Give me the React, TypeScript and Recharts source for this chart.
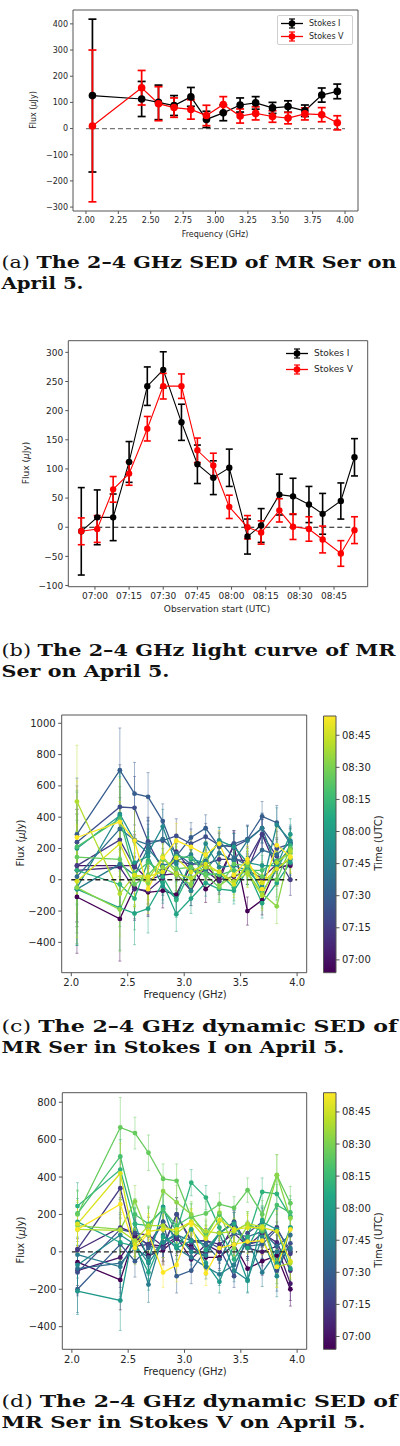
import {
  ComposedChart,
  ErrorBar,
  Label,
  Legend,
  Line,
  ReferenceArea,
  ReferenceLine,
  XAxis,
  YAxis,
} from "recharts";

const SANS = "'DejaVu Sans', sans-serif";
const SERIF = "'DejaVu Serif', serif";
const INK = "#262626";
const SPINE = "#555555";

// ---- (a) band-averaged SED ----
const SED_FREQ = [2.05, 2.43, 2.56, 2.68, 2.81, 2.93, 3.06, 3.19, 3.31, 3.44, 3.56, 3.69, 3.82, 3.94];
const SED_I = [126, 113, 100, 88, 121, 35, 60, 90, 98, 79, 84, 68, 128, 142];
const SED_I_ERR = [292, 67, 66, 38, 36, 31, 30, 27, 24, 21, 22, 22, 27, 28];
const SED_V = [10, 156, 95, 80, 73, 50, 92, 48, 58, 46, 40, 56, 53, 22];
const SED_V_ERR = [290, 66, 65, 37, 37, 39, 30, 27, 25, 22, 22, 23, 27, 27];
const SED_X_TICKS = [2.0, 2.25, 2.5, 2.75, 3.0, 3.25, 3.5, 3.75, 4.0];
const SED_Y_TICKS = [-300, -200, -100, 0, 100, 200, 300, 400];

// ---- (b) light curve ----
const LC_TIMES = [
  "06:54", "07:01", "07:08", "07:15", "07:23", "07:30", "07:38", "07:45", "07:52",
  "07:59", "08:07", "08:13", "08:21", "08:27", "08:34", "08:40", "08:48", "08:54",
];
const LC_I = [-7, 17, 17, 112, 242, 270, 180, 108, 85, 102, -16, 3, 56, 53, 39, 23, 45, 120];
const LC_I_ERR = [75, 47, 40, 35, 33, 31, 31, 33, 29, 32, 30, 29, 35, 31, 31, 35, 31, 32];
const LC_V = [-7, -3, 65, 92, 169, 242, 242, 132, 106, 35, 0, -9, 29, 1, -3, -21, -45, -5];
const LC_V_ERR = [23, 23, 22, 20, 21, 22, 21, 21, 21, 20, 20, 20, 20, 22, 21, 23, 22, 23];
const LC_X_TICKS = ["07:00", "07:15", "07:30", "07:45", "08:00", "08:15", "08:30", "08:45"];
const LC_Y_TICKS = [-100, -50, 0, 50, 100, 150, 200, 250, 300];

// ---- (c)/(d) dynamic SEDs, one row per scan (same order as LC_TIMES) ----
const SCAN_COLORS = [
  "#440154", "#47176a", "#472a79", "#443c84", "#3d4e8a", "#365d8d", "#2f6c8e", "#297b8e", "#23898d",
  "#1f988a", "#21a585", "#2eb37c", "#47c06e", "#66cb5d", "#8ad548", "#b1dd2e", "#d9e21b", "#fde725",
];
const VIRIDIS = [
  "#440154", "#482475", "#414487", "#355f8d", "#2a788e", "#21918c",
  "#22a884", "#44bf70", "#7ad151", "#bddf26", "#fde725",
];

const DYN_I: number[][] = [
  [-110, -250, -50, -80, -70, -95, 95, -60, 20, 220, -200, -130, 80, 90],
  [90, 90, 90, 0, 30, 40, -70, 90, 0, 20, 60, 10, 100, 200],
  [60, 80, -60, -70, 10, 180, 60, 60, -10, 230, 60, 290, 70, 100],
  [90, 255, 80, 240, 60, 120, 100, 100, 130, 130, 120, 290, 150, 0],
  [240, 465, 460, 245, 250, 280, 230, 275, 220, 210, 255, 330, 200, 230],
  [290, 700, 550, 530, 375, 150, 270, 330, 210, 230, 260, 405, 365, 230],
  [20, 325, 255, 225, 260, 170, 100, 120, 250, 140, 90, 190, 160, 240],
  [-60, 100, 30, 200, 90, 120, 160, 60, 170, 120, 250, 330, 80, 130],
  [-50, 420, 250, 170, 340, 100, -70, 230, 80, 90, 60, -40, 350, 250],
  [200, 410, 110, 150, -40, -120, 130, 110, 250, 210, 110, 90, 90, 290],
  [-60, -180, -215, -185, -20, -220, -120, -20, -60, -70, 60, -150, -20, 110],
  [60, -30, -120, 120, 20, -130, 60, 30, 40, -50, 100, -80, 70, 220],
  [210, 390, 40, 110, 50, 150, 140, 40, 30, 60, 60, 60, 120, 170],
  [145, 130, -30, 30, 130, 70, 80, 30, -50, 100, 90, 20, 0, 200],
  [-50, -190, 20, -20, 80, 30, -30, 160, -40, 30, 50, -90, -170, 190],
  [500, -90, 30, 0, 150, 40, 10, 80, 50, -10, 40, -100, 110, 180],
  [-10, 230, 30, 20, 50, 140, 50, 100, 50, -30, 110, -20, 70, 140],
  [270, 370, 250, -60, 140, 250, 210, 160, 230, 30, 130, -60, 220, 150],
];
const DYN_I_ERR = [360, 270, 200, 155, 110, 110, 95, 85, 85, 85, 90, 95, 110, 100];

const DYN_V: number[][] = [
  [-55, -150, 90, -20, 10, 70, 30, -30, -30, 40, -90, -50, -20, -200],
  [-100, -30, 80, 40, 30, 80, -40, 40, 0, 150, 20, 0, 30, -170],
  [10, 130, 100, 90, 30, 200, 60, 60, 40, 100, 30, 100, 50, -100],
  [15, 340, 30, 40, 160, 70, 20, -10, 100, 160, 40, 60, 130, -10],
  [-110, 120, 100, 30, 20, 200, 50, 60, 20, -130, 100, 160, -100, 45],
  [-200, 40, -50, 20, 160, -130, -100, 10, 100, 160, 30, 40, 120, 10],
  [-90, -60, 20, -30, 50, 90, 60, 40, -40, 100, 80, 110, 30, 90],
  [-15, -80, 60, -175, 90, 20, -30, -80, -120, -70, 60, -110, 0, 20],
  [-70, 90, 40, -60, 50, 100, 0, -20, 100, -100, -150, 80, -130, 130],
  [-210, -260, 150, -50, 240, 20, 60, -60, -160, 40, -155, 160, 120, -90],
  [160, 50, 30, -110, 80, 30, 120, 10, 100, 150, 20, 170, -60, 130],
  [245, 440, 150, 140, 230, 110, 370, 290, 130, -40, 80, 320, 310, 190],
  [205, 510, 200, 150, 225, 140, 190, 100, 200, 110, 150, 110, 250, 210],
  [200, 665, 635, 530, 390, 380, 185, 205, 255, 235, 330, 200, 410, 260],
  [140, 120, 270, 90, 325, 265, 200, 80, 210, 20, 140, 120, 410, 180],
  [120, 115, 60, 140, 140, 100, 160, 110, 100, 110, 150, 135, -80, -60],
  [150, 420, 40, 110, 120, 120, 160, 70, 170, 120, 130, 130, 110, -50],
  [120, 255, 20, 100, -110, -70, 150, -115, 20, 40, 55, 60, -80, 120],
];
const DYN_V_ERR = [125, 160, 85, 95, 80, 90, 70, 65, 60, 60, 65, 75, 110, 90];

const DYN_X_TICKS = [2.0, 2.5, 3.0, 3.5, 4.0];
const DYN_I_Y_TICKS = [-400, -200, 0, 200, 400, 600, 800, 1000];
const DYN_V_Y_TICKS = [-400, -200, 0, 200, 400, 600, 800];
const CBAR_TICKS = LC_X_TICKS;

const CAPTIONS = [
  { tag: "(a)", first: "The 2–4 GHz SED of MR Ser on", second: "April 5." },
  { tag: "(b)", first: "The 2–4 GHz light curve of MR", second: "Ser on April 5." },
  { tag: "(c)", first: "The 2–4 GHz dynamic SED of", second: "MR Ser in Stokes I on April 5." },
  { tag: "(d)", first: "The 2–4 GHz dynamic SED of", second: "MR Ser in Stokes V on April 5." },
];

const LEGEND_ITEMS = [
  { label: "Stokes I", color: "#000000" },
  { label: "Stokes V", color: "#ff0000" },
];

const toMin = (t: string) => {
  const [h, m] = t.split(":").map(Number);
  return h * 60 + m;
};
const hhmm = (v: number) =>
  `${String(Math.floor(v / 60)).padStart(2, "0")}:${String(Math.round(v % 60)).padStart(2, "0")}`;
const num = (v: number) => (v < 0 ? `\u2212${Math.abs(v)}` : `${v}`);

const sedRows = SED_FREQ.map((f, k) => ({
  f,
  i: SED_I[k],
  ie: SED_I_ERR[k],
  v: SED_V[k],
  ve: SED_V_ERR[k],
}));

const lcRows = LC_TIMES.map((t, k) => ({
  t: toMin(t),
  i: LC_I[k],
  ie: LC_I_ERR[k],
  v: LC_V[k],
  ve: LC_V_ERR[k],
}));

const dynRows = (series: number[][], err: number[]) =>
  SED_FREQ.map((f, k) => {
    const row: Record<string, number> = { f };
    series.forEach((s, i) => {
      row[`s${i}`] = s[k];
      row[`e${i}`] = err[k];
    });
    return row;
  });

function RotLabel({ cx, cy, size, children }: { cx: number; cy: number; size: number; children: any }) {
  return (
    <text
      x={cx}
      y={cy}
      transform={`rotate(-90 ${cx} ${cy})`}
      textAnchor="middle"
      dominantBaseline="central"
      fontSize={size}
      fontFamily={SANS}
      fill={INK}
    >
      {children}
    </text>
  );
}

function FluxLabel({ cx, cy, size }: { cx: number; cy: number; size: number }) {
  return (
    <RotLabel cx={cx} cy={cy} size={size}>
      Flux (<tspan fontStyle="italic">μ</tspan>Jy)
    </RotLabel>
  );
}

function XLabel({ cx, y, size, text }: { cx: number; y: number; size: number; text: string }) {
  return (
    <text x={cx} y={y} textAnchor="middle" fontSize={size} fontFamily={SANS} fill={INK}>
      {text}
    </text>
  );
}

function ErrIcon({ color }: { color: string }) {
  return (
    <svg width={22} height={11} style={{ display: "block" }}>
      <line x1={0} y1={5.5} x2={22} y2={5.5} stroke={color} strokeWidth={1.3} />
      <line x1={11} y1={1} x2={11} y2={10} stroke={color} strokeWidth={1.5} />
      <line x1={8} y1={1} x2={14} y2={1} stroke={color} strokeWidth={1.2} />
      <line x1={8} y1={10} x2={14} y2={10} stroke={color} strokeWidth={1.2} />
      <circle cx={11} cy={5.5} r={3.3} fill={color} />
    </svg>
  );
}

function StokesLegend({ framed, size, rowH }: { framed: boolean; size: number; rowH: number }) {
  return (
    <div
      style={{
        border: framed ? "1px solid #cfcfcf" : "1px solid transparent",
        borderRadius: 2,
        background: "rgba(255,255,255,0.85)",
        padding: "1px 3px",
        fontFamily: SANS,
        fontSize: size,
        color: INK,
        lineHeight: 1,
      }}
    >
      {LEGEND_ITEMS.map((it) => (
        <div key={it.label} style={{ display: "flex", alignItems: "center", height: rowH, whiteSpace: "nowrap" }}>
          <ErrIcon color={it.color} />
          <span style={{ marginLeft: 6 }}>{it.label}</span>
        </div>
      ))}
    </div>
  );
}

const tickStyle = (size: number) => ({ fontSize: size, fill: INK, fontFamily: SANS });

function SedPanel() {
  return (
    <div style={{ position: "absolute", left: 0, top: 0 }}>
      <ComposedChart width={400} height={245} data={sedRows} margin={{ top: 10, right: 42, bottom: 0, left: 0 }}>
        <XAxis
          dataKey="f"
          type="number"
          domain={[1.9, 4.1]}
          ticks={SED_X_TICKS}
          interval={0}
          tickFormatter={(v: number) => v.toFixed(2)}
          allowDataOverflow
          height={34}
          axisLine={false}
          tickLine={{ stroke: SPINE }}
          tickSize={3}
          tickMargin={3}
          tick={tickStyle(8)}
        >
          <Label content={() => <XLabel cx={215} y={237} size={8} text="Frequency (GHz)" />} />
        </XAxis>
        <YAxis
          type="number"
          domain={[-315, 453]}
          ticks={SED_Y_TICKS}
          interval={0}
          tickFormatter={num}
          allowDataOverflow
          width={73}
          axisLine={false}
          tickLine={{ stroke: SPINE }}
          tickSize={3}
          tickMargin={2}
          tick={tickStyle(8)}
        >
          <Label content={() => <FluxLabel cx={33} cy={110} size={8} />} />
        </YAxis>
        <ReferenceLine
          segment={[{ x: 2.0, y: 0 }, { x: 4.0, y: 0 }]}
          stroke="#777"
          strokeWidth={1.2}
          strokeDasharray="5 3"
        />
        <Line dataKey="i" type="linear" stroke="#000" strokeWidth={1.2} dot={{ r: 3.8, fill: "#000", stroke: "#000", strokeWidth: 0 }} isAnimationActive={false}>
          <ErrorBar dataKey="ie" direction="y" width={4} stroke="#000" strokeWidth={1.7} />
        </Line>
        <Line dataKey="v" type="linear" stroke="#ff0000" strokeWidth={1.2} dot={{ r: 3.8, fill: "#ff0000", stroke: "#ff0000", strokeWidth: 0 }} isAnimationActive={false}>
          <ErrorBar dataKey="ve" direction="y" width={4} stroke="#ff0000" strokeWidth={1.7} />
        </Line>
        <ReferenceArea x1={1.9} x2={4.1} y1={-315} y2={453} fill="none" stroke={SPINE} strokeWidth={1} />
        <Legend
          layout="horizontal"
          verticalAlign="middle"
          align="center"
          width={76}
          wrapperStyle={{ left: 277, top: 15 }}
          content={() => <StokesLegend framed size={8} rowH={13} />}
        />
      </ComposedChart>
    </div>
  );
}

function LightCurvePanel() {
  const first = toMin(LC_TIMES[0]);
  const last = toMin(LC_TIMES[LC_TIMES.length - 1]);
  return (
    <div style={{ position: "absolute", left: 0, top: 330 }}>
      <ComposedChart width={400} height={290} data={lcRows} margin={{ top: 10.7, right: 32.3, bottom: 0, left: 0 }}>
        <XAxis
          dataKey="t"
          type="number"
          domain={[408.3, 539.8]}
          ticks={LC_X_TICKS.map(toMin)}
          interval={0}
          tickFormatter={hhmm}
          allowDataOverflow
          height={33.3}
          axisLine={false}
          tickLine={{ stroke: SPINE }}
          tickSize={3}
          tickMargin={3}
          tick={tickStyle(9)}
        >
          <Label content={() => <XLabel cx={217} y={282} size={9} text="Observation start (UTC)" />} />
        </XAxis>
        <YAxis
          type="number"
          domain={[-102, 320]}
          ticks={LC_Y_TICKS}
          interval={0}
          tickFormatter={num}
          allowDataOverflow
          width={68.3}
          axisLine={false}
          tickLine={{ stroke: SPINE }}
          tickSize={3}
          tickMargin={2}
          tick={tickStyle(9)}
        >
          <Label content={() => <FluxLabel cx={26} cy={133} size={9} />} />
        </YAxis>
        <ReferenceLine
          segment={[{ x: first, y: 0 }, { x: last, y: 0 }]}
          stroke="#111"
          strokeWidth={1.2}
          strokeDasharray="5 3"
        />
        <Line dataKey="i" type="linear" stroke="#000" strokeWidth={1.1} dot={{ r: 3.2, fill: "#000", stroke: "#000", strokeWidth: 0 }} isAnimationActive={false}>
          <ErrorBar dataKey="ie" direction="y" width={3.5} stroke="#000" strokeWidth={1.6} />
        </Line>
        <Line dataKey="v" type="linear" stroke="#ff0000" strokeWidth={1.1} dot={{ r: 3.2, fill: "#ff0000", stroke: "#ff0000", strokeWidth: 0 }} isAnimationActive={false}>
          <ErrorBar dataKey="ve" direction="y" width={3.5} stroke="#ff0000" strokeWidth={1.6} />
        </Line>
        <ReferenceArea x1={408.3} x2={539.8} y1={-102} y2={320} fill="none" stroke={SPINE} strokeWidth={1} />
        <Legend
          layout="horizontal"
          verticalAlign="middle"
          align="center"
          width={80}
          wrapperStyle={{ left: 282, top: 14 }}
          content={() => <StokesLegend framed={false} size={9} rowH={15.5} />}
        />
      </ComposedChart>
    </div>
  );
}

type DynProps = {
  top: number;
  series: number[][];
  err: number[];
  yDomain: [number, number];
  yTicks: number[];
  plotTop: number;
  plotBottom: number;
  plotLeft: number;
  labelY: number;
  xLabelY: number;
};

const DYN_X_DOMAIN: [number, number] = [1.915, 4.085];
const CBAR_DOMAIN: [number, number] = [414, 534];

function DynamicPanel({ top, series, err, yDomain, yTicks, plotTop, plotBottom, plotLeft, labelY, xLabelY }: DynProps) {
  const rows = dynRows(series, err);
  return (
    <div style={{ position: "absolute", left: 0, top }}>
      <ComposedChart width={400} height={300} data={rows} margin={{ top: plotTop, right: 93.3, bottom: 0, left: 0 }}>
        <XAxis
          dataKey="f"
          type="number"
          domain={DYN_X_DOMAIN}
          ticks={DYN_X_TICKS}
          interval={0}
          tickFormatter={(v: number) => v.toFixed(1)}
          allowDataOverflow
          height={300 - plotBottom}
          axisLine={false}
          tickLine={{ stroke: SPINE }}
          tickSize={3.5}
          tickMargin={3}
          tick={tickStyle(10)}
        >
          <Label content={() => <XLabel cx={185} y={xLabelY} size={10} text="Frequency (GHz)" />} />
        </XAxis>
        <YAxis
          type="number"
          domain={yDomain}
          ticks={yTicks}
          interval={0}
          tickFormatter={num}
          allowDataOverflow
          width={plotLeft}
          axisLine={false}
          tickLine={{ stroke: SPINE }}
          tickSize={3.5}
          tickMargin={2.5}
          tick={tickStyle(10)}
        >
          <Label content={() => <FluxLabel cx={20.7} cy={labelY} size={10} />} />
        </YAxis>
        {series.map((_, i) => (
          <Line
            key={i}
            dataKey={`s${i}`}
            type="linear"
            stroke={SCAN_COLORS[i]}
            strokeWidth={1.3}
            dot={{ r: 2.4, fill: SCAN_COLORS[i], stroke: SCAN_COLORS[i], strokeWidth: 0 }}
            isAnimationActive={false}
          >
            <ErrorBar dataKey={`e${i}`} direction="y" width={1.5} stroke={SCAN_COLORS[i]} strokeWidth={1} strokeOpacity={0.45} />
          </Line>
        ))}
        <ReferenceLine
          segment={[{ x: 2.0, y: 0 }, { x: 4.0, y: 0 }]}
          stroke="#222"
          strokeWidth={1.3}
          strokeDasharray="5 3"
        />
        <ReferenceArea x1={DYN_X_DOMAIN[0]} x2={DYN_X_DOMAIN[1]} y1={yDomain[0]} y2={yDomain[1]} fill="none" stroke={SPINE} strokeWidth={1} />
      </ComposedChart>
    </div>
  );
}

function Colorbar({ top, id, plotTop, plotBottom, labelY }: { top: number; id: string; plotTop: number; plotBottom: number; labelY: number }) {
  return (
    <div style={{ position: "absolute", left: 0, top }}>
      <ComposedChart width={400} height={300} data={[{ x: 0 }, { x: 1 }]} margin={{ top: plotTop, right: 0, bottom: 300 - plotBottom, left: 323.5 }}>
        <defs>
          <linearGradient id={id} x1="0" y1="1" x2="0" y2="0">
            {VIRIDIS.map((c, k) => (
              <stop key={c} offset={k / (VIRIDIS.length - 1)} stopColor={c} />
            ))}
          </linearGradient>
        </defs>
        <XAxis dataKey="x" type="number" domain={[0, 1]} hide />
        <YAxis
          orientation="right"
          type="number"
          domain={CBAR_DOMAIN}
          ticks={CBAR_TICKS.map(toMin)}
          interval={0}
          tickFormatter={hhmm}
          allowDataOverflow
          width={64}
          axisLine={false}
          tickLine={{ stroke: SPINE }}
          tickSize={3.5}
          tickMargin={2.5}
          tick={tickStyle(10)}
        >
          <Label
            content={() => (
              <RotLabel cx={378} cy={labelY} size={10}>
                Time (UTC)
              </RotLabel>
            )}
          />
        </YAxis>
        <ReferenceArea y1={CBAR_DOMAIN[0]} y2={CBAR_DOMAIN[1]} fill={`url(#${id})`} fillOpacity={1} stroke={SPINE} strokeWidth={1} />
      </ComposedChart>
    </div>
  );
}

const CAPTION_LAYOUT = [
  { y: 268, w1: 395, w2: 82 },
  { y: 656, w1: 394, w2: 168 },
  { y: 1032, w1: 396, w2: 343 },
  { y: 1407, w1: 396, w2: 364 },
];

function Captions() {
  return (
    <svg width={400} height={1446} style={{ position: "absolute", left: 0, top: 0, pointerEvents: "none" }}>
      {CAPTIONS.map((c, k) => {
        const L = CAPTION_LAYOUT[k];
        return (
          <g key={c.tag} fontFamily={SERIF} fontSize={16.5} fill="#111">
            <text x={1.5} y={L.y} textLength={L.w1} lengthAdjust="spacingAndGlyphs">
              <tspan fontWeight="normal">{c.tag} </tspan>
              <tspan fontWeight="bold">{c.first}</tspan>
            </text>
            <text x={1.5} y={L.y + 21} textLength={L.w2} lengthAdjust="spacingAndGlyphs" fontWeight="bold">
              {c.second}
            </text>
          </g>
        );
      })}
    </svg>
  );
}

export default function App() {
  return (
    <div style={{ position: "absolute", left: 0, top: 0, width: 400, height: 1446, background: "#fff" }}>
      <SedPanel />
      <LightCurvePanel />
      <DynamicPanel
        top={705}
        series={DYN_I}
        err={DYN_I_ERR}
        yDomain={[-594, 1053]}
        yTicks={DYN_I_Y_TICKS}
        plotTop={10}
        plotBottom={267.7}
        plotLeft={61.7}
        labelY={138}
        xLabelY={293}
      />
      <Colorbar top={705} id="viridis-i" plotTop={11} plotBottom={267.7} labelY={138} />
      <DynamicPanel
        top={1080}
        series={DYN_V}
        err={DYN_V_ERR}
        yDomain={[-521, 851]}
        yTicks={DYN_V_Y_TICKS}
        plotTop={12.7}
        plotBottom={269.3}
        plotLeft={62.3}
        labelY={160}
        xLabelY={295}
      />
      <Colorbar top={1080} id="viridis-v" plotTop={12.7} plotBottom={269.3} labelY={160} />
      <Captions />
    </div>
  );
}
